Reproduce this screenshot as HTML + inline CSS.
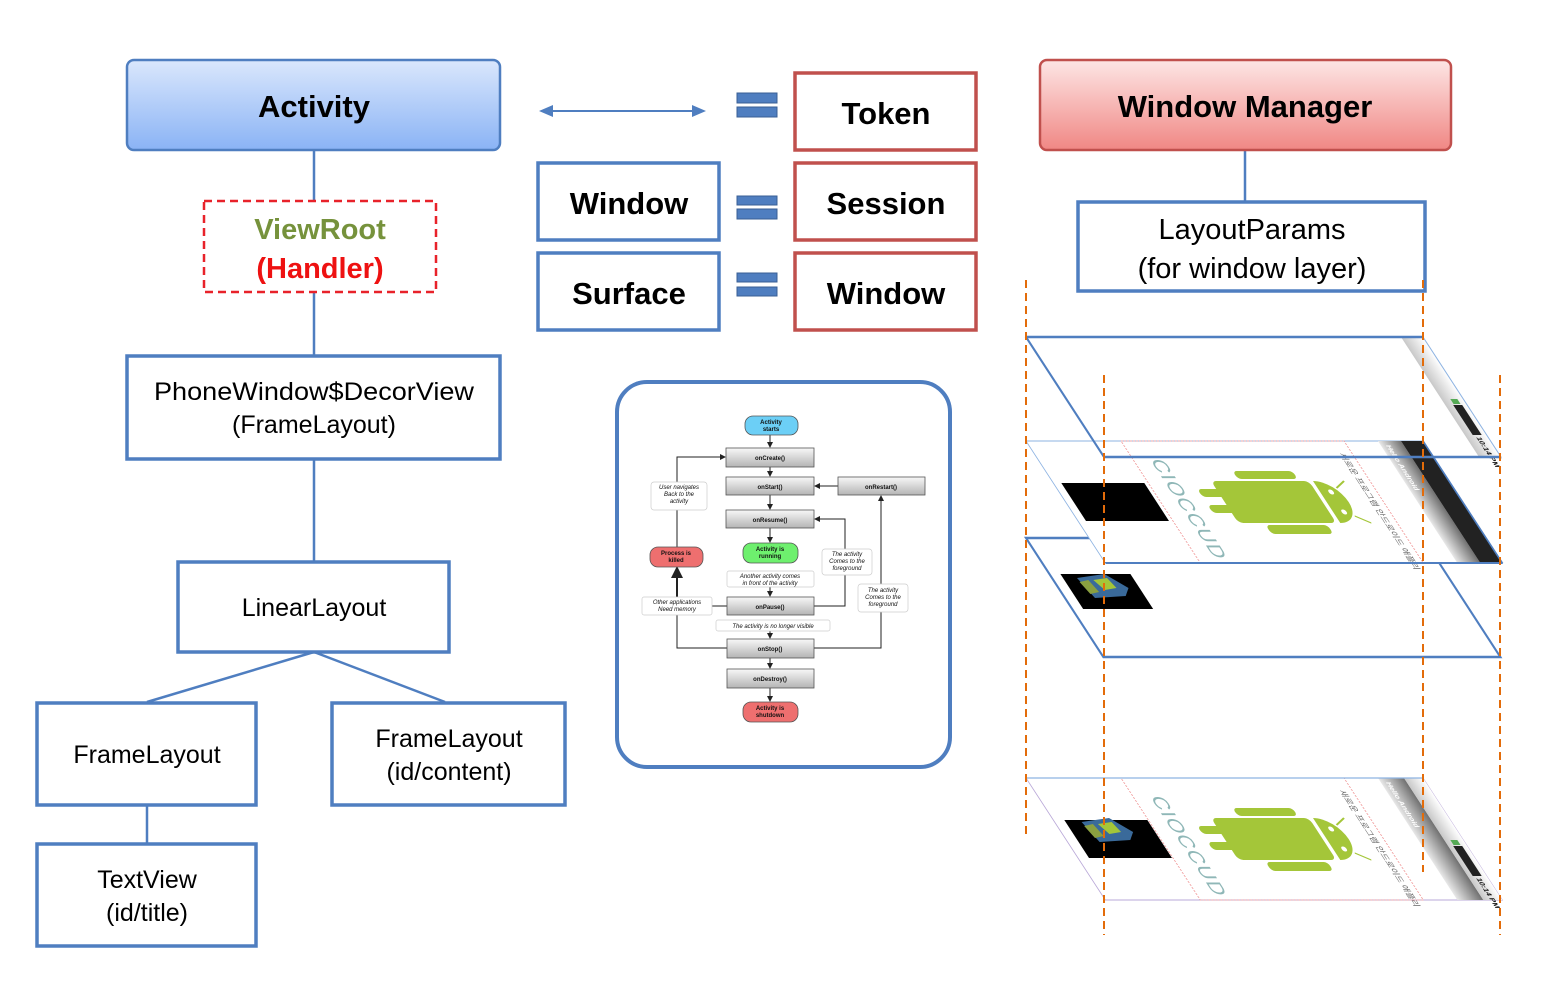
<!DOCTYPE html>
<html><head><meta charset="utf-8"><style>
html,body{margin:0;padding:0;background:#fff;}
svg{display:block;}
text{font-family:"Liberation Sans","Noto Sans CJK KR",sans-serif;}
</style></head><body>
<svg width="1542" height="984" viewBox="0 0 1542 984" xmlns="http://www.w3.org/2000/svg">
<defs>
<linearGradient id="gb" x1="0" y1="0" x2="0" y2="1"><stop offset="0" stop-color="#dae7fc"/><stop offset="1" stop-color="#8ab3f5"/></linearGradient>
<linearGradient id="gr" x1="0" y1="0" x2="0" y2="1"><stop offset="0" stop-color="#fde6e5"/><stop offset="1" stop-color="#f08784"/></linearGradient>
<linearGradient id="gg" x1="0" y1="0" x2="0" y2="1"><stop offset="0" stop-color="#f8f8f8"/><stop offset="1" stop-color="#b4b4b4"/></linearGradient>
<linearGradient id="gs" x1="0" y1="0" x2="1" y2="0"><stop offset="0" stop-color="#e8e8e8"/><stop offset="1" stop-color="#707070"/></linearGradient>
<linearGradient id="gw" x1="0" y1="0" x2="1" y2="0"><stop offset="0" stop-color="#c8c8c8"/><stop offset="1" stop-color="#ffffff"/></linearGradient>
<marker id="ar" markerWidth="6" markerHeight="6" refX="5" refY="3" orient="auto"><path d="M0,0 L6,3 L0,6 z" fill="#222"/></marker>
<g id="robot" fill="#a4c639">
  <rect x="140" y="48" width="28" height="8" rx="4"/>
  <rect x="140" y="64" width="28" height="8" rx="4"/>
  <rect x="159" y="40" width="98" height="42" rx="5"/>
  <rect x="187" y="30" width="60" height="8" rx="4"/>
  <rect x="185" y="84" width="62" height="9" rx="4"/>
  <path d="M261,40 A22,21 0 0 1 261,82 Z"/>
  <circle cx="272" cy="51" r="2.5" fill="#fff"/>
  <circle cx="272" cy="71" r="2.5" fill="#fff"/>
  <line x1="280" y1="47" x2="292" y2="40" stroke="#a4c639" stroke-width="1.5"/>
  <line x1="280" y1="75" x2="292" y2="82" stroke="#a4c639" stroke-width="1.5"/>
</g>
<g id="cube">
  <path d="M25,48 L55,44 L70,58 L62,66 L30,68 Z" fill="#3a6a9a"/>
  <path d="M40,50 L55,48 L58,58 L45,60 Z" fill="#a4c639"/>
  <path d="M25,52 L35,50 L38,62 L28,64 Z" fill="#8aa040"/>
</g>
<g id="screen">
  <rect x="95" y="0" width="223" height="122" fill="none" stroke="#f2a5a5" stroke-width="1" stroke-dasharray="2,1"/>
  <use href="#robot"/>
  <text transform="translate(112,18) rotate(90)" font-size="20" fill="#8fb7b7" letter-spacing="1">CIOCCUD</text>
  <text transform="translate(305,12) rotate(90)" font-size="8" fill="#666">새로운 프로그램 안드로이드 애플리</text>
</g>
</defs>

<!-- LEFT TREE -->
<g stroke="#4f7ec0" stroke-width="2.5" fill="none">
  <line x1="314" y1="150" x2="314" y2="202"/>
  <line x1="314" y1="292" x2="314" y2="356"/>
  <line x1="314" y1="459" x2="314" y2="562"/>
  <line x1="314" y1="652" x2="147" y2="702"/>
  <line x1="314" y1="652" x2="445" y2="702"/>
  <line x1="147" y1="805" x2="147" y2="844"/>
  <line x1="1245" y1="150" x2="1245" y2="202"/>
</g>
<rect x="127" y="60" width="373" height="90" rx="7" fill="url(#gb)" stroke="#4f7ec0" stroke-width="2.5"/>
<text x="314" y="117" text-anchor="middle" font-size="31" font-weight="bold">Activity</text>
<rect x="204" y="201" width="232" height="91" fill="#fff" stroke="#e8222a" stroke-width="2.5" stroke-dasharray="8,5"/>
<text x="320" y="239" text-anchor="middle" font-size="29" font-weight="bold" fill="#76923c">ViewRoot</text>
<text x="320" y="278" text-anchor="middle" font-size="29" font-weight="bold" fill="#ee1111">(Handler)</text>
<g fill="#fff" stroke="#4f7ec0" stroke-width="3.5">
  <rect x="127" y="356" width="373" height="103"/>
  <rect x="178" y="562" width="271" height="90"/>
  <rect x="37" y="703" width="219" height="102"/>
  <rect x="332" y="703" width="233" height="102"/>
  <rect x="37" y="844" width="219" height="102"/>
  <rect x="538" y="163" width="181" height="77"/>
  <rect x="538" y="253" width="181" height="77"/>
  <rect x="1078" y="202" width="347" height="89"/>
</g>
<g font-size="25" text-anchor="middle" fill="#000">
  <text x="314" y="400" textLength="320" lengthAdjust="spacingAndGlyphs">PhoneWindow$DecorView</text>
  <text x="314" y="433">(FrameLayout)</text>
  <text x="314" y="616">LinearLayout</text>
  <text x="147" y="763">FrameLayout</text>
  <text x="449" y="747">FrameLayout</text>
  <text x="449" y="780">(id/content)</text>
  <text x="147" y="888">TextView</text>
  <text x="147" y="921">(id/title)</text>
  <text x="1252" y="239" font-size="29">LayoutParams</text>
  <text x="1252" y="278" font-size="29">(for window layer)</text>
</g>

<!-- MIDDLE -->
<line x1="548" y1="111" x2="697" y2="111" stroke="#4f7ec0" stroke-width="2"/>
<path d="M539,111 L553,105 L553,117 Z" fill="#4f7ec0"/>
<path d="M706,111 L692,105 L692,117 Z" fill="#4f7ec0"/>
<g fill="#4f7ec0" stroke="#3a5f94" stroke-width="1">
  <rect x="737" y="93" width="40" height="10"/><rect x="737" y="107" width="40" height="10"/>
  <rect x="737" y="196" width="40" height="9"/><rect x="737" y="209" width="40" height="10"/>
  <rect x="737" y="273" width="40" height="9"/><rect x="737" y="287" width="40" height="9"/>
</g>
<g fill="#fff" stroke="#c0504d" stroke-width="3.5">
  <rect x="795" y="73" width="181" height="77"/>
  <rect x="795" y="163" width="181" height="77"/>
  <rect x="795" y="253" width="181" height="77"/>
</g>
<g font-size="31" font-weight="bold" text-anchor="middle" fill="#000">
  <text x="886" y="124">Token</text>
  <text x="886" y="214">Session</text>
  <text x="886" y="304">Window</text>
  <text x="629" y="214">Window</text>
  <text x="629" y="304">Surface</text>
</g>

<!-- LIFECYCLE -->
<rect x="617" y="382" width="333" height="385" rx="30" fill="#fff" stroke="#4f7ec0" stroke-width="4"/>
<g stroke="#222" stroke-width="1" fill="none">
  <line x1="770" y1="435" x2="770" y2="447" marker-end="url(#ar)"/>
  <line x1="770" y1="467" x2="770" y2="476" marker-end="url(#ar)"/>
  <line x1="770" y1="495" x2="770" y2="509" marker-end="url(#ar)"/>
  <line x1="770" y1="528" x2="770" y2="542" marker-end="url(#ar)"/>
  <line x1="770" y1="587" x2="770" y2="596" marker-end="url(#ar)"/>
  <line x1="770" y1="631" x2="770" y2="638" marker-end="url(#ar)"/>
  <line x1="770" y1="658" x2="770" y2="668" marker-end="url(#ar)"/>
  <line x1="770" y1="688" x2="770" y2="701" marker-end="url(#ar)"/>
  <line x1="838" y1="486" x2="815" y2="486" marker-end="url(#ar)"/>
  <polyline points="677,547 677,457 725,457" marker-end="url(#ar)"/>
  <polyline points="727,648 677,648 677,612"/>
  <line x1="677" y1="607" x2="677" y2="568" stroke-width="2" marker-end="url(#ar)"/>
  <polyline points="814,606 845,606 845,519 815,519" marker-end="url(#ar)"/>
  <polyline points="814,648 881,648 881,496" marker-end="url(#ar)"/>
  <line x1="712" y1="606" x2="727" y2="606"/>
</g>
<g stroke="#555" stroke-width="0.8">
  <rect x="745" y="416" width="53" height="19" rx="8" fill="#6ccff6"/>
  <rect x="726" y="448" width="88" height="19" fill="url(#gg)"/>
  <rect x="726" y="477" width="88" height="18" fill="url(#gg)"/>
  <rect x="838" y="477" width="87" height="18" fill="url(#gg)"/>
  <rect x="726" y="510" width="88" height="18" fill="url(#gg)"/>
  <rect x="743" y="543" width="55" height="20" rx="8" fill="#6ef06e"/>
  <rect x="727" y="597" width="87" height="18" fill="url(#gg)"/>
  <rect x="727" y="639" width="87" height="19" fill="url(#gg)"/>
  <rect x="727" y="669" width="87" height="19" fill="url(#gg)"/>
  <rect x="743" y="702" width="55" height="20" rx="8" fill="#ee6f6f"/>
  <rect x="650" y="547" width="53" height="20" rx="8" fill="#ee6f6f"/>
</g>
<g fill="#fff" stroke="#ccc" stroke-width="0.7">
  <rect x="651" y="482" width="56" height="28" rx="3"/>
  <rect x="727" y="571" width="87" height="16" rx="2"/>
  <rect x="716" y="620" width="114" height="11" rx="2"/>
  <rect x="642" y="597" width="70" height="18" rx="2"/>
  <rect x="822" y="549" width="50" height="26" rx="3"/>
  <rect x="858" y="584" width="50" height="28" rx="3"/>
</g>
<g font-size="6" font-weight="bold" text-anchor="middle" fill="#111">
  <text x="771" y="424">Activity</text><text x="771" y="431">starts</text>
  <text x="770" y="460">onCreate()</text>
  <text x="770" y="489">onStart()</text>
  <text x="881" y="489">onRestart()</text>
  <text x="770" y="522">onResume()</text>
  <text x="770" y="551">Activity is</text><text x="770" y="558">running</text>
  <text x="770" y="609">onPause()</text>
  <text x="770" y="651">onStop()</text>
  <text x="770" y="681">onDestroy()</text>
  <text x="770" y="710">Activity is</text><text x="770" y="717">shutdown</text>
  <text x="676" y="555">Process is</text><text x="676" y="562">killed</text>
</g>
<g font-size="6" font-style="italic" text-anchor="middle" fill="#111">
  <text x="679" y="489">User navigates</text><text x="679" y="496">Back to the</text><text x="679" y="503">activity</text>
  <text x="770" y="578">Another activity comes</text><text x="770" y="585">in front of the activity</text>
  <text x="773" y="628">The activity is no longer visible</text>
  <text x="677" y="604">Other applications</text><text x="677" y="611">Need memory</text>
  <text x="847" y="556">The activity</text><text x="847" y="563">Comes to the</text><text x="847" y="570">foreground</text>
  <text x="883" y="592">The activity</text><text x="883" y="599">Comes to the</text><text x="883" y="606">foreground</text>
</g>

<!-- WINDOW MANAGER -->
<rect x="1040" y="60" width="411" height="90" rx="7" fill="url(#gr)" stroke="#c0504d" stroke-width="2.5"/>
<text x="1245" y="117" text-anchor="middle" font-size="31" font-weight="bold">Window Manager</text>

<!-- Plane 3 -->
<g transform="matrix(1,0,0.65,1,1026,538)">
  <rect x="0" y="0" width="397" height="119" fill="#fff" stroke="#4f7ec0" stroke-width="2.5"/>
  <rect x="11" y="36" width="70" height="35" fill="#000"/>
  <use href="#cube" transform="translate(0,-8)"/>
</g>
<!-- Plane 2 -->
<g transform="matrix(1,0,0.65,1,1026,441)">
  <rect x="0" y="0" width="397" height="122" fill="#fff" stroke="#8db3e2" stroke-width="1"/>
  <rect x="8" y="42" width="83" height="38" fill="#000"/>
  <use href="#screen"/>
  <rect x="352" y="0" width="23" height="122" fill="url(#gs)"/>
  <rect x="375" y="0" width="22" height="122" fill="#222"/>
  <text transform="translate(357,4) rotate(90)" font-size="7" font-weight="bold" fill="#fff">Hello Android</text>
  <line x1="0" y1="122" x2="397" y2="122" stroke="#4f7ec0" stroke-width="2"/>
  <line x1="397" y1="0" x2="397" y2="122" stroke="#4f7ec0" stroke-width="2"/>
</g>
<!-- Plane 1 -->
<g transform="matrix(1,0,0.65,1,1026,337)">
  <rect x="375" y="0" width="22" height="120" fill="url(#gw)"/>
  <rect x="383" y="68" width="9" height="30" fill="#222"/>
  <rect x="384" y="62" width="7" height="5" fill="#5a5"/>
  <text transform="translate(385,100) rotate(90)" font-size="7" font-weight="bold" fill="#111">10:14 PM</text>
  <line x1="0" y1="0" x2="397" y2="0" stroke="#4f7ec0" stroke-width="2.5"/>
  <line x1="0" y1="0" x2="0" y2="120" stroke="#4f7ec0" stroke-width="2.5"/>
  <line x1="0" y1="120" x2="397" y2="120" stroke="#4f7ec0" stroke-width="2.5"/>
  <line x1="397" y1="0" x2="397" y2="120" stroke="#8db3e2" stroke-width="1.2"/>
</g>
<!-- Plane 4 -->
<g transform="matrix(1,0,0.65,1,1026,778)">
  <rect x="0" y="0" width="397" height="122" fill="#fff" stroke="#b9a8d8" stroke-width="1"/>
  <rect x="11" y="42" width="83" height="38" fill="#000"/>
  <use href="#cube" transform="translate(2,-4)"/>
  <use href="#screen"/>
  <rect x="352" y="0" width="26" height="122" fill="url(#gs)"/>
  <rect x="378" y="0" width="19" height="122" fill="url(#gw)"/>
  <text transform="translate(357,4) rotate(90)" font-size="7" font-weight="bold" fill="#fff">Hello Android</text>
  <rect x="383" y="68" width="9" height="30" fill="#222"/>
  <rect x="384" y="62" width="7" height="5" fill="#5a5"/>
  <text transform="translate(385,100) rotate(90)" font-size="7" font-weight="bold" fill="#111">10:14 PM</text>
  <line x1="0" y1="0" x2="397" y2="0" stroke="#8db3e2" stroke-width="1.2"/>
</g>
<!-- orange dashed guides -->
<g stroke="#e36c0a" stroke-width="2" stroke-dasharray="8,5">
  <line x1="1026" y1="280" x2="1026" y2="836"/>
  <line x1="1104" y1="375" x2="1104" y2="935"/>
  <line x1="1423" y1="280" x2="1423" y2="872"/>
  <line x1="1500" y1="375" x2="1500" y2="935"/>
</g>
</svg>
</body></html>
